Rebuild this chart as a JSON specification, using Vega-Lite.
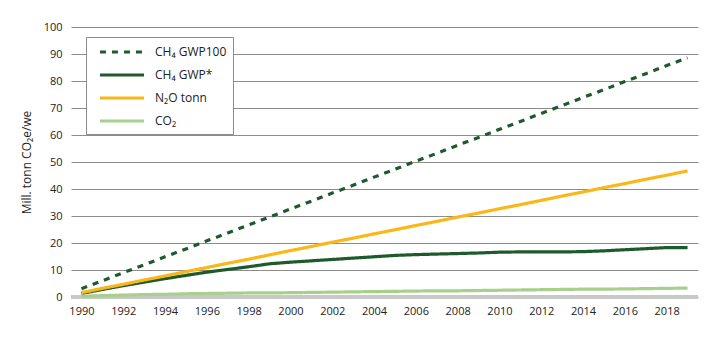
{
  "$schema": "https://vega.github.io/schema/vega-lite/v6.json",
  "width": 627,
  "height": 270,
  "autosize": {"type": "none"},
  "padding": {"left": 71, "top": 27, "right": 21, "bottom": 44},
  "background": "white",
  "config": {
    "font": "Open Sans",
    "view": {"stroke": null},
    "axis": {"labelFont": "Open Sans", "titleFont": "Open Sans", "labelColor": "#222", "titleColor": "#222"}
  },
  "data": {
    "values": [
      {"year": 1990, "g100": 3.1, "gstar": 1.3, "n2o": 1.6, "co2": 0.3},
      {"year": 1991, "g100": 6.0, "gstar": 2.8, "n2o": 3.2, "co2": 0.5},
      {"year": 1992, "g100": 9.0, "gstar": 4.2, "n2o": 4.7, "co2": 0.7},
      {"year": 1993, "g100": 11.9, "gstar": 5.5, "n2o": 6.3, "co2": 0.9},
      {"year": 1994, "g100": 14.9, "gstar": 6.8, "n2o": 7.8, "co2": 1.0},
      {"year": 1995, "g100": 17.8, "gstar": 8.0, "n2o": 9.4, "co2": 1.2},
      {"year": 1996, "g100": 20.8, "gstar": 9.2, "n2o": 10.9, "co2": 1.3},
      {"year": 1997, "g100": 23.7, "gstar": 10.2, "n2o": 12.5, "co2": 1.4},
      {"year": 1998, "g100": 26.7, "gstar": 11.2, "n2o": 14.0, "co2": 1.5},
      {"year": 1999, "g100": 29.6, "gstar": 12.3, "n2o": 15.6, "co2": 1.5},
      {"year": 2000, "g100": 32.6, "gstar": 12.9, "n2o": 17.2, "co2": 1.6},
      {"year": 2001, "g100": 35.5, "gstar": 13.4, "n2o": 18.7, "co2": 1.7},
      {"year": 2002, "g100": 38.5, "gstar": 13.9, "n2o": 20.3, "co2": 1.8},
      {"year": 2003, "g100": 41.4, "gstar": 14.4, "n2o": 21.8, "co2": 1.9},
      {"year": 2004, "g100": 44.4, "gstar": 14.9, "n2o": 23.4, "co2": 2.0},
      {"year": 2005, "g100": 47.3, "gstar": 15.4, "n2o": 24.9, "co2": 2.1},
      {"year": 2006, "g100": 50.3, "gstar": 15.7, "n2o": 26.5, "co2": 2.2},
      {"year": 2007, "g100": 53.2, "gstar": 15.9, "n2o": 28.0, "co2": 2.3},
      {"year": 2008, "g100": 56.2, "gstar": 16.1, "n2o": 29.6, "co2": 2.3},
      {"year": 2009, "g100": 59.1, "gstar": 16.3, "n2o": 31.1, "co2": 2.4},
      {"year": 2010, "g100": 62.1, "gstar": 16.6, "n2o": 32.7, "co2": 2.5},
      {"year": 2011, "g100": 65.0, "gstar": 16.7, "n2o": 34.2, "co2": 2.6},
      {"year": 2012, "g100": 68.0, "gstar": 16.7, "n2o": 35.8, "co2": 2.7},
      {"year": 2013, "g100": 70.9, "gstar": 16.7, "n2o": 37.4, "co2": 2.8},
      {"year": 2014, "g100": 73.9, "gstar": 16.8, "n2o": 38.9, "co2": 2.9},
      {"year": 2015, "g100": 76.8, "gstar": 17.1, "n2o": 40.5, "co2": 2.9},
      {"year": 2016, "g100": 79.8, "gstar": 17.5, "n2o": 42.0, "co2": 3.0},
      {"year": 2017, "g100": 82.7, "gstar": 17.9, "n2o": 43.6, "co2": 3.1},
      {"year": 2018, "g100": 85.7, "gstar": 18.3, "n2o": 45.1, "co2": 3.2},
      {"year": 2019, "g100": 88.6, "gstar": 18.3, "n2o": 46.7, "co2": 3.3}
    ]
  },
  "layer": [
    {
      "mark": {"type": "rule", "color": "#c8c8c8", "strokeWidth": 2.5},
      "encoding": {
        "y": {
          "datum": 0, "type": "quantitative",
          "scale": {"domain": [0, 100], "nice": false},
          "axis": {
            "values": [0, 10, 20, 30, 40, 50, 60, 70, 80, 90, 100],
            "title": "Mill. tonn CO₂e/we", "titleFontSize": 12, "titleFontWeight": "normal", "titlePadding": 10,
            "grid": true, "gridColor": "#8c8c8c", "gridWidth": 1,
            "ticks": false, "domain": false, "labelPadding": 9, "labelFontSize": 11
          }
        }
      }
    },
    {
      "transform": [
        {"fold": ["g100", "gstar", "n2o", "co2"], "as": ["key", "value"]},
        {"lookup": "key", "from": {"data": {"values": [
          {"key": "g100", "series": "CH₄ GWP100"},
          {"key": "gstar", "series": "CH₄ GWP*"},
          {"key": "n2o", "series": "N₂O tonn"},
          {"key": "co2", "series": "CO₂"}
        ]}, "key": "key", "fields": ["series"]}}
      ],
      "mark": {"type": "line", "strokeWidth": 3.2, "strokeCap": "butt"},
      "encoding": {
        "x": {
          "field": "year", "type": "quantitative",
          "scale": {"domain": [1989.5, 2019.5], "nice": false, "zero": false},
          "axis": {
            "values": [1990, 1992, 1994, 1996, 1998, 2000, 2002, 2004, 2006, 2008, 2010, 2012, 2014, 2016, 2018],
            "format": "d", "title": null, "grid": false, "ticks": false, "domain": false,
            "labelPadding": 8, "labelFontSize": 11
          }
        },
        "y": {
          "field": "value", "type": "quantitative",
          "scale": {"domain": [0, 100], "nice": false},
          "axis": {
            "values": [0, 10, 20, 30, 40, 50, 60, 70, 80, 90, 100],
            "title": "Mill. tonn CO₂e/we", "titleFontSize": 12, "titleFontWeight": "normal", "titlePadding": 10,
            "grid": true, "gridColor": "#8c8c8c", "gridWidth": 1,
            "ticks": false, "domain": false, "labelPadding": 9, "labelFontSize": 11
          }
        },
        "color": {
          "field": "series", "type": "nominal",
          "scale": {"domain": ["CH₄ GWP100", "CH₄ GWP*", "N₂O tonn", "CO₂"], "range": ["#1f5a2c", "#1f5a2c", "#fbb718", "#a8d08d"]},
          "legend": {
            "title": null, "orient": "none", "legendX": 15, "legendY": 10,
            "strokeColor": "#8c8c8c", "fillColor": "white", "padding": 6,
            "symbolType": "M-0.15,0H6.15", "symbolSize": 196, "symbolStrokeWidth": 3.2,
            "labelFontSize": 12, "labelFont": "Open Sans", "labelColor": "#222", "rowPadding": 7, "labelOffset": 45
          }
        },
        "strokeDash": {
          "field": "series", "type": "nominal",
          "scale": {"domain": ["CH₄ GWP100", "CH₄ GWP*", "N₂O tonn", "CO₂"], "range": [[6, 6], [1, 0], [1, 0], [1, 0]]},
          "legend": {
            "title": null, "orient": "none", "legendX": 15, "legendY": 10,
            "strokeColor": "#8c8c8c", "fillColor": "white", "padding": 6,
            "symbolType": "M-0.15,0H6.15", "symbolSize": 196, "symbolStrokeWidth": 3.2,
            "labelFontSize": 12, "labelFont": "Open Sans", "labelColor": "#222", "rowPadding": 7, "labelOffset": 45
          }
        }
      }
    }
  ]
}
